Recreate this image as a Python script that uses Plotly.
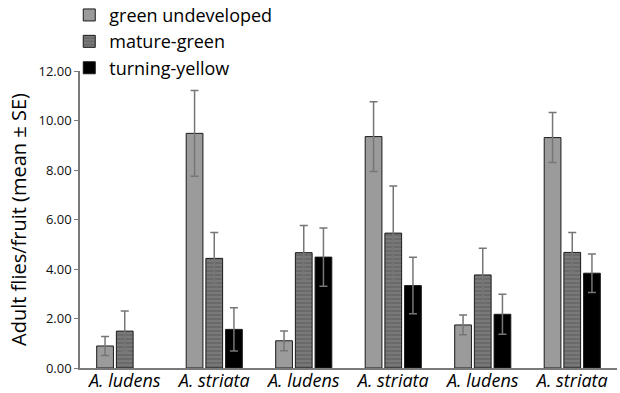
import plotly.graph_objects as go

# Species tested at each fruit stage block
categories = ["A. ludens", "A. striata", "A. ludens ", "A. striata ", "A. ludens  ", "A. striata  "]
tick_text = ["A. ludens", "A. striata", "A. ludens", "A. striata", "A. ludens", "A. striata"]

# Mean adult flies per fruit and standard errors by fruit stage
green_undeveloped = [0.89, 9.48, 1.10, 9.35, 1.74, 9.31]
green_undeveloped_se = [0.38, 1.73, 0.40, 1.41, 0.40, 1.01]
mature_green = [1.49, 4.43, 4.66, 5.45, 3.76, 4.67]
mature_green_se = [0.81, 1.04, 1.10, 1.90, 1.08, 0.80]
turning_yellow = [None, 1.56, 4.48, 3.33, 2.17, 3.83]
turning_yellow_se = [None, 0.87, 1.18, 1.14, 0.81, 0.78]

y_ticks = [0, 2, 4, 6, 8, 10, 12]

err_style = dict(type="data", visible=True, color="#767676", thickness=1.5, width=4)
outline = dict(color="#1a1a1a", width=1)

fig = go.Figure()
fig.add_trace(go.Bar(
    name="green undeveloped", x=categories, y=green_undeveloped,
    error_y=dict(array=green_undeveloped_se, **err_style),
    marker=dict(color="#9b9b9b", line=outline),
))
fig.add_trace(go.Bar(
    name="mature-green", x=categories, y=mature_green,
    error_y=dict(array=mature_green_se, **err_style),
    marker=dict(color="#6a6a6a", line=outline,
                pattern=dict(shape="-", fgcolor="#a8a8a8", bgcolor="#6a6a6a",
                             size=4, solidity=0.25)),
))
fig.add_trace(go.Bar(
    name="turning-yellow", x=categories, y=turning_yellow,
    error_y=dict(array=turning_yellow_se, **err_style),
    marker=dict(color="#000000", line=outline),
))

fig.update_layout(
    width=620, height=393,
    margin=dict(l=80, r=3, t=71, b=25, autoexpand=False),
    paper_bgcolor="white", plot_bgcolor="white",
    barmode="group", bargap=0.34, bargroupgap=0.15,
    font=dict(family="Open Sans", color="#111111"),
    showlegend=True,
    legend=dict(x=-0.02, y=1.25, xanchor="left", yanchor="top",
                font=dict(size=18, color="#000000"),
                bgcolor="rgba(0,0,0,0)", tracegroupgap=0),
    xaxis=dict(
        tickmode="array", tickvals=categories, ticktext=tick_text,
        tickfont=dict(size=18, style="italic", color="#000000"),
        ticklabelstandoff=-4,
        showline=True, linecolor="#7a7a7a", linewidth=1.5,
        ticks="", showgrid=False, zeroline=False, automargin=False,
    ),
    yaxis=dict(
        range=[0, 12], tickvals=y_ticks,
        ticktext=[f"{v:.2f}" for v in y_ticks],
        tickfont=dict(size=13, color="#111111"),
        ticks="outside", ticklen=4, tickcolor="#7a7a7a",
        showline=True, linecolor="#7a7a7a", linewidth=1.5,
        showgrid=False, zeroline=False, automargin=False,
        title=dict(text="Adult flies/fruit (mean ± SE)", font=dict(size=20, color="#000000"),
                   standoff=6),
    ),
)

fig.write_html("out.html")
